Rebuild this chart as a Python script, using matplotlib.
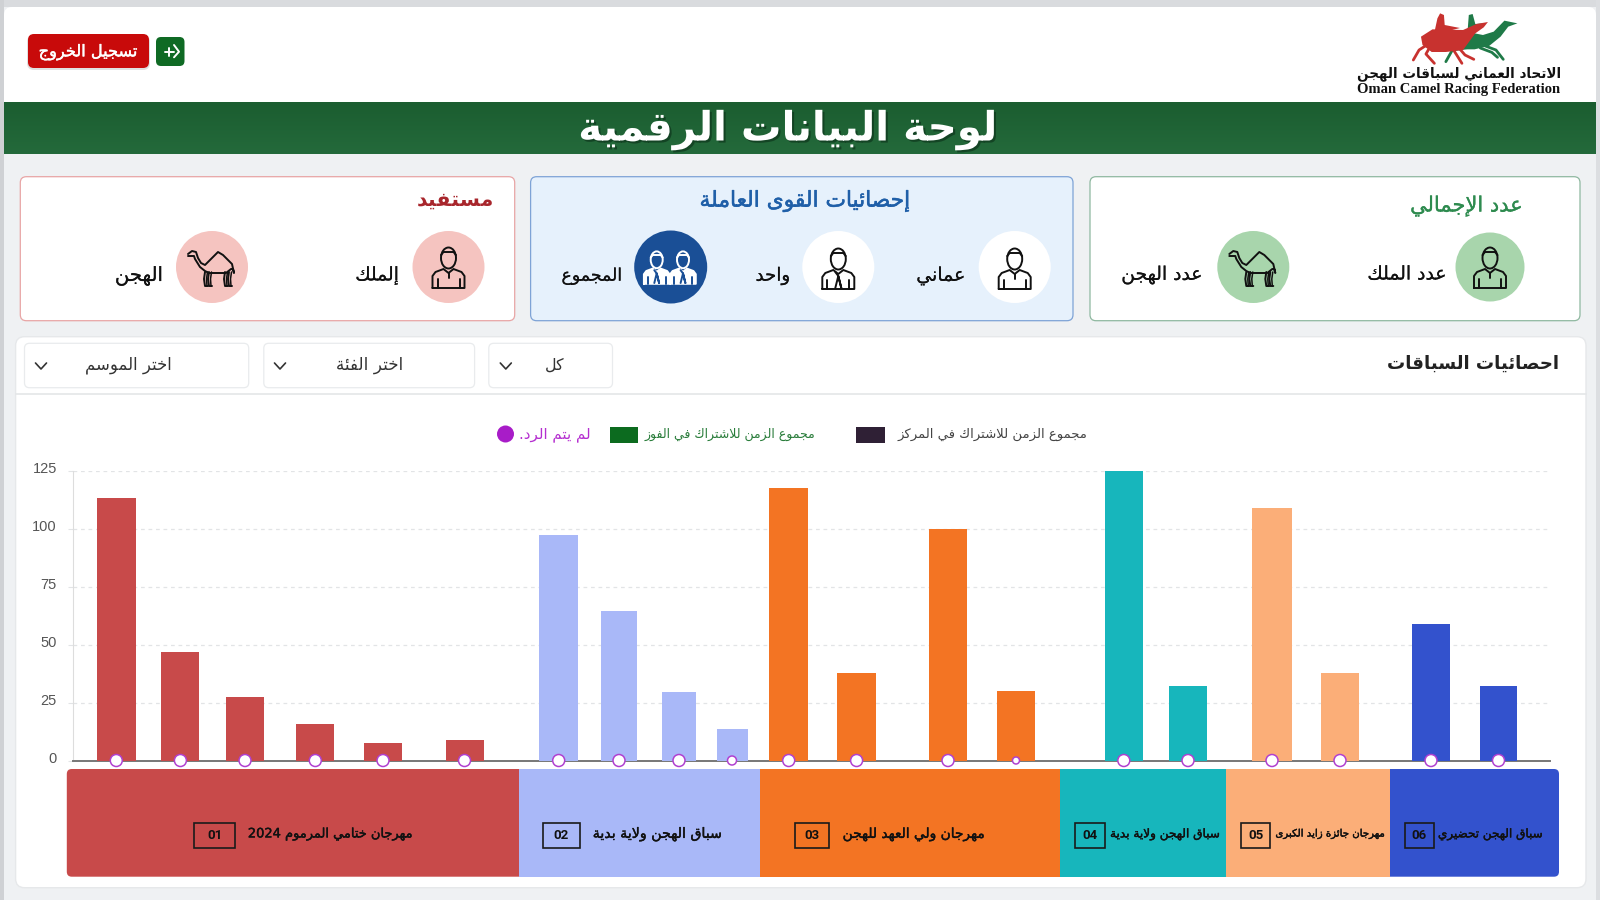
import re
import numpy as np
import matplotlib
matplotlib.use("Agg")
import matplotlib.pyplot as plt
import matplotlib.patheffects as pe
from matplotlib.font_manager import FontProperties
from matplotlib.patches import Circle, Ellipse, FancyBboxPatch, Polygon, Rectangle
from matplotlib.textpath import TextPath
from matplotlib.transforms import ScaledTranslation

# chart values
festival_names = ["مهرجان ختامي المرموم 2024", "سباق الهجن ولاية بدية", "مهرجان ولي العهد للهجن",
                  "سباق الهجن ولاية بدية", "مهرجان جائزة زايد الكبرى", "سباق الهجن تحضيري"]
festival_codes = ["01", "02", "03", "04", "05", "06"]
festival_colors = ["#c84a4a", "#a9b8f8", "#f37423", "#17b6bc", "#fbae78", "#3352cd"]
festival_edges = [66.8, 518.9, 760, 1059.7, 1226, 1390.3, 1559]
values = [[113, 46.7, 27.5, 15.8, 7.7, 9],
          [97, 64.3, 29.7, 13.4],
          [117.5, 37.6, 100, 30],
          [125, 32],
          [109, 37.6],
          [59, 32]]
bar_x = [[116.3, 180.4, 245, 315.3, 383, 464.5],
         [558.7, 619, 679, 732],
         [788.7, 856.6, 948, 1016],
         [1123.8, 1188],
         [1272, 1340],
         [1431, 1498.5]]
bar_w = [[39, 38, 38, 38, 38, 38], [39, 36.7, 34.7, 31], [38.6, 38.7, 38.7, 38.7],
         [38.3, 38.6], [39.2, 38.8], [38.8, 37.7]]
no_reply = [[0] * len(v) for v in values]
marker_d = [[12] * 6, [12, 12, 12, 9], [12, 12, 12, 7], [12, 12], [12, 12], [12, 12]]
y_ticks = [0, 25, 50, 75, 100, 125]

legend_labels = ["مجموع الزمن للاشتراك في المركز", "مجموع الزمن للاشتراك في الفوز", "لم يتم الرد."]

# arabic shaping, matplotlib does not join or reorder by itself
LETTERS = "ءآأؤإئابةتثجحخدذرزسشصضطظعغفقكلمنهوىي"
COUNTS = [1, 2, 2, 2, 2, 4, 2, 4, 2, 4, 4, 4, 4, 4, 2, 2, 2, 2,
          4, 4, 4, 4, 4, 4, 4, 4, 4, 4, 4, 4, 4, 4, 4, 2, 2, 4]
forms = {}
code = 0xFE80
for ch, cnt in zip(LETTERS, COUNTS):
    forms[ch] = (code, cnt)
    code += cnt
LAM_ALEF = {"آ": 0xFEF5, "أ": 0xFEF7, "إ": 0xFEF9, "ا": 0xFEFB}


def ar(s):
    if not any(c in forms for c in s):
        return s
    out = []
    i = 0
    prev = False
    while i < len(s):
        c = s[i]
        if c not in forms:
            out.append(c)
            prev = False
            i += 1
            continue
        nxt = s[i + 1] if i + 1 < len(s) else ""
        if c == "ل" and nxt in LAM_ALEF:
            out.append(chr(LAM_ALEF[nxt] + (1 if prev else 0)))
            prev = False
            i += 2
            continue
        base, cnt = forms[c]
        joins_next = cnt == 4 and nxt in forms
        if cnt == 1:
            k = 0
        elif prev and joins_next:
            k = 3
        elif prev:
            k = 1
        elif joins_next:
            k = 2
        else:
            k = 0
        out.append(chr(base + k))
        prev = cnt == 4
        i += 1
    vis = "".join(out)[::-1]
    return re.sub(r"[0-9]+", lambda m: m[0][::-1], vis)


fig = plt.figure(figsize=(16, 9), dpi=100, facecolor="#eff1f3")
ax = fig.add_axes([0, 0, 1, 1])
ax.set_xlim(0, 1600)
ax.set_ylim(900, 0)
ax.axis("off")


def fit(s, x0, x1, y, color="#111111", weight="normal", family="DejaVu Sans", effects=None, z=6, thick=0):
    # font size comes from the width the text has in the reference
    vis = ar(s)
    prop = FontProperties(family=family, weight=weight)
    w10 = TextPath((0, 0), vis, size=10, prop=prop).get_extents().width
    size = (x1 - x0) / w10 * 10 * 0.72
    if thick:
        effects = [pe.withStroke(linewidth=thick, foreground=color)]
    return ax.text((x0 + x1) / 2, y, vis, fontproperties=prop, fontsize=size, color=color,
                   ha="center", va="center", path_effects=effects, zorder=z)


def rbox(x0, y0, x1, y1, r, fc, ec="none", lw=1.0, z=2, alpha=None):
    p = FancyBboxPatch((x0 + r, y0 + r), x1 - x0 - 2 * r, y1 - y0 - 2 * r,
                       boxstyle=f"round,pad={r},rounding_size={r}", fc=fc, ec=ec, lw=lw, zorder=z, alpha=alpha)
    ax.add_patch(p)


def line(xs, ys, color="#111111", lw=1.4, z=7):
    ax.plot(xs, ys, color=color, lw=lw, zorder=z, solid_capstyle="round", solid_joinstyle="round")


def person(cx, cy, color="#111111", s=1.0, tie=False, fill=None):
    top = fill or color
    ax.add_patch(Ellipse((cx, cy - 9 * s), 15 * s, 21 * s, fc="none", ec=top, lw=1.4, zorder=7))
    line([cx - 7.5 * s, cx - 5 * s, cx + 5 * s, cx + 7.5 * s],
         [cy - 12 * s, cy - 15 * s, cy - 15 * s, cy - 12 * s], top)
    xs = np.array([-16, -16, -13, -5, 0, 5, 13, 16, 16, -16])
    ys = np.array([21, 9, 5, 2, 6, 2, 5, 9, 21, 21])
    if fill:
        ax.add_patch(Polygon(np.c_[cx + xs * s, cy + ys * s], fc=fill, ec="none", zorder=7))
    line(cx + xs * s, cy + ys * s, top if fill else color)
    line([cx - 11 * s] * 2, [cy + 12 * s, cy + 21 * s], color)
    line([cx + 11 * s] * 2, [cy + 12 * s, cy + 21 * s], color)
    if tie:
        line([cx - 3 * s, cx, cx + 3 * s, cx, cx - 3 * s], [cy + 4 * s, cy + 8 * s, cy + 20 * s, cy + 8 * s, cy + 20 * s], color)
    else:
        line([cx, cx], [cy + 6 * s, cy + 11 * s], color)


def camel(cx, cy, color="#111111"):
    xs = np.array([-24, -20, -16, -14, -11, -7, 0, 6, 11, 16, 20, 22, 21, 19, 14, 6, -3, -7, -12, -17, -18, -24])
    ys = np.array([-13, -16, -15, -9, -4, -2, -9, -15, -12, -7, -3, 6, 2, 2, 6, 6, 6, 4, 0, -8, -11, -11])
    line(cx + xs, cy + ys, color)
    for x0 in [-7, -3, 13, 17]:
        line([cx + x0, cx + x0 - 1, cx + x0, cx + x0 + 3], [cy + 5, cy + 12, cy + 19, cy + 19], color)
        line([cx + x0 + 2.5, cx + x0 + 1.5, cx + x0 + 2], [cy + 5, cy + 12, cy + 19], color, 1.1)


# page frame
ax.add_patch(Rectangle((0, 0), 1600, 7, fc="#d9dbde", ec="none", zorder=0))
ax.add_patch(Rectangle((0, 0), 4, 900, fc="#cfd1d4", ec="none", zorder=0))
ax.add_patch(Rectangle((1596, 0), 4, 900, fc="#dcdee1", ec="none", zorder=0))
rbox(4, 7, 1596, 130, 8, "white", z=1)

# header band
grad = np.linspace(0, 1, 52).reshape(-1, 1)
ax.imshow(grad, extent=(4, 1596, 154.5, 102.5), aspect="auto", zorder=2,
          cmap=matplotlib.colors.LinearSegmentedColormap.from_list("band", ["#1b5d30", "#246a3b"]))
ax.set_xlim(0, 1600)
ax.set_ylim(900, 0)
fit("لوحة البيانات الرقمية", 581, 994, 130.5, color="white", weight="bold",
    effects=[pe.SimplePatchShadow(offset=(1.5, -1.5), shadow_rgbFace="#0b2e18", alpha=0.6), pe.Normal()])

# logout buttons
rbox(27, 35, 150, 70, 7, "#cccccc", z=1, alpha=0.6)
rbox(28, 34, 149, 68, 6, "#c80a0a")
fit("تسجيل الخروج", 40, 137, 52.5, color="white", thick=0.3)
rbox(156, 37, 184.5, 66, 5, "#0f6a24")
line([164.6, 174], [51.7, 51.7], "white", 1.4)
line([169.3, 169.3], [47.5, 56], "white", 1.4)
line([174, 179, 174], [45, 51.7, 57.3], "white", 1.4)

# logo, traced roughly in zoom-crop units
logo_zoom = lambda pts: ([1000 + p[0] / 2.613 for p in pts], [p[1] / 3 for p in pts])
green_body = [(1195, 120), (1240, 100), (1262, 105), (1290, 95), (1318, 62), (1352, 70), (1328, 80),
              (1308, 110), (1278, 138), (1240, 148), (1205, 148)]
green_rider = [(1222, 90), (1225, 45), (1235, 42), (1242, 72), (1262, 70), (1240, 92)]
red_body = [(1100, 110), (1130, 88), (1210, 90), (1245, 72), (1275, 66), (1264, 82), (1242, 100), (1226, 125),
            (1210, 150), (1165, 156), (1128, 156), (1104, 135)]
red_rider = [(1136, 92), (1143, 55), (1150, 40), (1160, 45), (1162, 75), (1202, 84), (1168, 94)]
green_legs = [[(1225, 142), (1182, 150), (1165, 185)], [(1268, 138), (1296, 150), (1315, 178)],
              [(1255, 144), (1285, 157), (1300, 172)]]
red_legs = [[(1115, 135), (1095, 150), (1080, 180)], [(1120, 148), (1113, 162), (1135, 190)],
            [(1200, 145), (1215, 165), (1238, 178)], [(1185, 150), (1195, 168), (1207, 190)]]
for body, legs, rider, col, zz in [(green_body, green_legs, green_rider, "#1f7a48", 3),
                                   (red_body, red_legs, red_rider, "#c8322f", 4)]:
    for pts in (body, rider):
        ax.add_patch(Polygon(np.c_[logo_zoom(pts)], fc=col, ec="none", zorder=zz))
    for pts in legs:
        xs, ys = logo_zoom(pts)
        line(xs, ys, col, 2.0, zz)
fit("الاتحاد العماني لسباقات الهجن", 1358, 1559.5, 74, color="#111111", weight="bold")
fit("Oman Camel Racing Federation", 1358, 1559.5, 89, color="#111111", weight="bold", family="Liberation Serif")

# summary cards
rbox(20.3, 176.7, 514.7, 320.7, 6, "white", "#e8a5a5", 0.9)
rbox(530.6, 176.7, 1073, 320.7, 6, "#e6f1fc", "#7ea3d6", 0.9)
rbox(1090, 176.7, 1580, 320.7, 6, "white", "#8fb8a0", 0.9)

fit("مستفيد", 419, 492.5, 200, color="#a8262c", weight="bold")
fit("إحصائيات القوى العاملة", 700.5, 908.3, 201, color="#1f5fa8", thick=0.4)
fit("عدد الإجمالي", 1411.8, 1521, 206, color="#2e8b4f", thick=0.2)

ax.add_patch(Circle((448.5, 267), 36, fc="#f5c4c0", ec="none", zorder=5))
person(448.5, 267)
ax.add_patch(Circle((212, 267), 36, fc="#f5c4c0", ec="none", zorder=5))
camel(212, 267)
fit("إلملك", 356.7, 398, 276, thick=0.1)
fit("الهجن", 116.7, 161.5, 276, thick=0.1)

ax.add_patch(Circle((1014.7, 267), 36, fc="white", ec="none", zorder=5))
person(1014.7, 268)
ax.add_patch(Circle((838.3, 267), 36, fc="white", ec="none", zorder=5))
person(838.3, 268, tie=True)
ax.add_patch(Circle((670.7, 267), 36.5, fc="#1a4f96", ec="none", zorder=5))
person(656.7, 267, color="#1a4f96", s=0.8, tie=True, fill="white")
person(683, 267, color="#1a4f96", s=0.8, tie=True, fill="white")
fit("عماني", 918, 964, 276, thick=0.1)
fit("واحد", 756.8, 789, 276, thick=0.1)
fit("المجموع", 563, 621, 276, thick=0.1)

ax.add_patch(Circle((1490, 267), 34.5, fc="#a8d5ac", ec="none", zorder=5))
person(1490, 267)
ax.add_patch(Circle((1253.3, 267), 36, fc="#a8d5ac", ec="none", zorder=5))
camel(1253.3, 267)
fit("عدد الملك", 1369, 1445, 274, thick=0.1)
fit("عدد الهجن", 1123, 1201, 275, thick=0.1)

# races panel
rbox(15.6, 336.7, 1586, 887.7, 9, "white", "#e6e8ea", 1.0)
ax.plot([15.6, 1586], [394, 394], color="#e4e6e8", lw=1.2, zorder=3)
fit("احصائيات السباقات", 1388, 1558, 364, color="#222222", weight="bold")
dropdowns = [(24.5, 248.7, 41, "اختر الموسم", 86, 170), (263.8, 474.6, 280, "اختر الفئة", 337.5, 401.8),
             (488.8, 612.5, 505.8, "كل", 545.5, 564)]
for x0, x1, cx, label, t0, t1 in dropdowns:
    rbox(x0, 343.3, x1, 387.7, 5, "white", "#e9ebed", 0.9, z=3)
    line([cx - 5.5, cx, cx + 5.5], [363, 369, 363], "#333333", 1.2)
    fit(label, t0, t1, 365, color="#333333")

# legend
fit(legend_labels[0], 898, 1086.7, 434, color="#444444")
ax.add_patch(Rectangle((855.5, 426.7), 29, 16.6, fc="#2f2035", ec="none", zorder=5))
fit(legend_labels[1], 644.7, 815.3, 434, color="#2a7d3b")
ax.add_patch(Rectangle((609.8, 426.7), 28, 16.6, fc="#0c6b1f", ec="none", zorder=5))
fit(legend_labels[2], 520, 588.8, 434, color="#b52fd0")
ax.add_patch(Circle((505.5, 434), 8.5, fc="#a81cc8", ec="none", zorder=5))

# festival strip
rbox(66.8, 769, 530, 876.7, 5, festival_colors[0], z=3)
rbox(1380, 769, 1559, 876.7, 5, festival_colors[5], z=3)
for i in range(1, 5):
    ax.add_patch(Rectangle((festival_edges[i], 769), festival_edges[i + 1] - festival_edges[i], 107.7,
                           fc=festival_colors[i], ec="none", zorder=4))
code_box = [(194.4, 235), (543, 579.6), (795, 829), (1075, 1104.6), (1241, 1270.4), (1405, 1433.7)]
name_box = [(249, 411.7), (594, 721), (844, 984), (1111, 1219), (1276, 1384), (1439, 1542)]
for i in range(6):
    b0, b1 = code_box[i]
    ax.add_patch(Rectangle((b0, 823), b1 - b0, 25.3, fc="none", ec="#1a1a1a", lw=1.2, zorder=6))
    ax.text((b0 + b1) / 2, 835.5, festival_codes[i], family="Roboto", weight="bold", fontsize=9.5,
            color="#111111", ha="center", va="center", zorder=7)
    fit(festival_names[i], name_box[i][0], name_box[i][1], 834, thick=0.3)

# the bar chart itself, its axes sit on the reference's pixel grid
chart = fig.add_axes([73 / 1600, (900 - 760.5) / 900, (1550 - 73) / 1600, 290 / 900])
chart.patch.set_alpha(0)
chart.set_xlim(73, 1550)
chart.set_ylim(0, 125)
for i in range(6):
    chart.bar(bar_x[i], values[i], width=bar_w[i], color=festival_colors[i], zorder=3)
    chart.scatter(bar_x[i], no_reply[i], s=(np.array(marker_d[i]) * 0.72) ** 2, facecolor="white",
                  edgecolor="#b040d0", linewidth=1.1, zorder=5, clip_on=False)
chart.set_xticks([])
chart.set_yticks(y_ticks)
chart.tick_params(axis="y", length=3.6, width=0.8, color="#e2e4e6", pad=8, labelsize=10.5, labelcolor="#555555")
up = ScaledTranslation(0, 2.5 / 72, fig.dpi_scale_trans)
for t in chart.get_yticklabels():
    t.set_family("Liberation Sans")
    t.set_transform(t.get_transform() + up)
chart.grid(axis="y", color="#e2e4e6", linestyle=(0, (3, 3)), linewidth=0.9)
chart.set_axisbelow(True)
for side in ["top", "right"]:
    chart.spines[side].set_visible(False)
chart.spines["left"].set_color("#dddddd")
chart.spines["bottom"].set_color("#777777")
chart.spines["bottom"].set_linewidth(1.4)

fig.savefig("out.png", dpi=100)
